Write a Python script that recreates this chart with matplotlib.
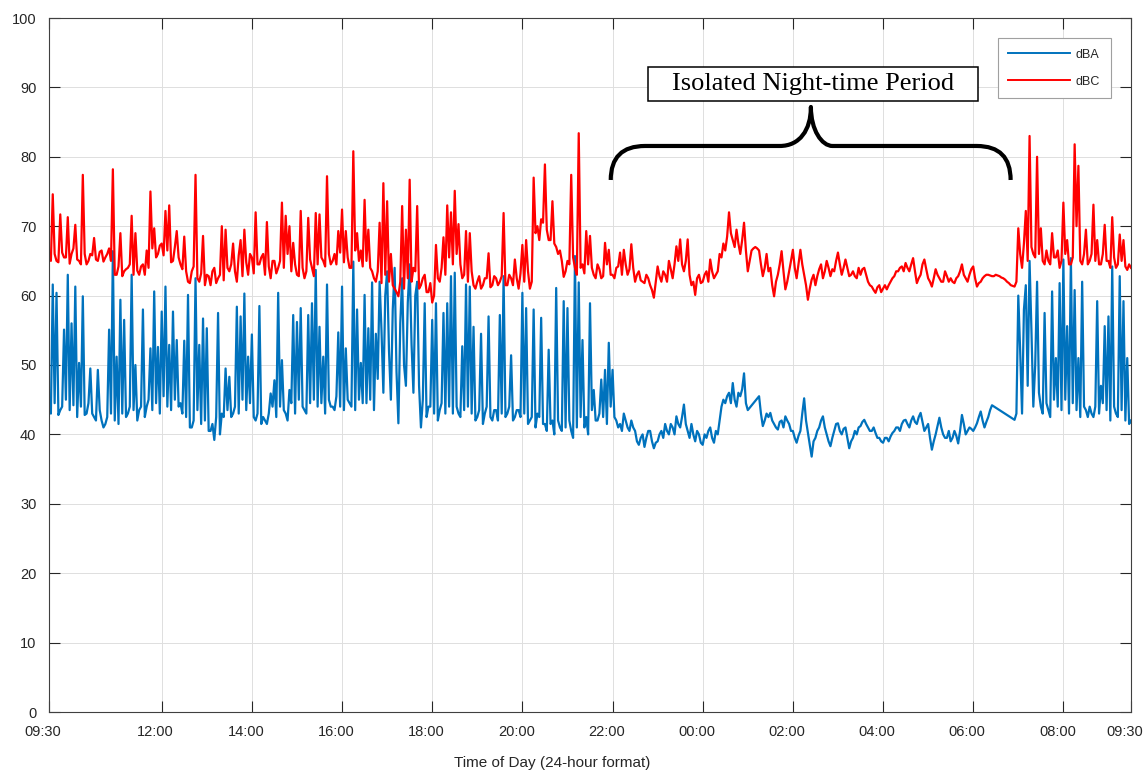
import numpy as np
import matplotlib.pyplot as plt
import matplotlib.transforms as mtransforms
from matplotlib.path import Path
from matplotlib.patches import PathPatch, Rectangle

plt.rcParams['font.family'] = ['Liberation Sans', 'DejaVu Sans']

# sound levels every 5 minutes from 09:30 (one row = one hour),
# plus the readings halfway between them (the *_mid rows).
# None = no sample, the line just joins the neighbours
dba_rows = [
    [44.0, 61.6, 60.4, 43.5, 55.1, 63.0, 56.0, 61.3, 50.3, 59.9, 43.0, 49.5],
    [42.5, 49.3, 42.0, 41.5, 55.1, 66.4, 51.2, 59.4, 56.5, 43.0, 63.0, 50.0],
    [43.5, 58.0, 44.0, 52.4, 60.6, 52.6, 57.7, 61.3, 52.9, 57.7, 53.6, 44.5],
    [53.5, 60.1, 41.0, 62.5, 52.9, 56.7, 55.3, 40.5, 39.2, 57.5, 43.0, 49.5],
    [48.3, 43.0, 58.4, 57.0, 60.3, 51.2, 54.4, 42.0, 58.5, 42.5, 41.5, 45.9],
    [47.8, 60.4, 50.7, 43.0, 46.4, 57.2, 56.2, 58.2, 43.5, 57.2, 58.9, 63.7],
    [55.5, 51.2, 61.6, 44.0, 43.5, 54.7, 61.3, 52.4, 44.5, 64.9, 58.0, 50.3],
    [60.1, 55.3, 61.9, 54.5, 62.0, 46.0, 63.5, 45.0, 64.0, 41.6, 62.5, 47.0],
    [64.5, 46.0, 62.0, 41.0, 58.9, 44.0, 56.5, 58.9, 43.5, 57.5, 58.9, 62.8],
    [63.3, 43.0, 52.7, 61.6, 61.3, 55.5, 42.5, 54.5, 43.0, 57.0, 42.0, 43.5],
    [57.2, 62.8, 43.0, 51.4, 42.5, 43.5, 60.4, 58.2, 42.0, 58.0, 43.0, 56.8],
    [41.5, 52.2, 42.0, 61.1, 41.0, 59.2, 58.2, 40.5, 65.7, 61.9, 53.6, 42.5],
    [58.9, 46.4, 42.0, 47.9, 49.3, 53.2, 49.3, 42.0, 41.5, 43.0, 41.0, 42.0],
    [40.5, 38.5, 40.0, 39.5, 40.5, 38.0, 39.0, 40.5, 41.5, 40.0, 41.0, 42.6],
    [41.0, 44.3, 40.5, 41.5, 39.0, 40.0, 38.5, 39.5, 41.0, 38.8, 40.0, 44.0],
    [44.5, 46.0, 47.4, 44.0, 45.5, 48.8, 43.5, None, None, 45.5, 41.2, 43.0],
    [43.1, 41.5, 40.7, 42.0, 42.6, 41.5, 40.5, 38.8, 40.5, 45.2, 40.2, 36.8],
    [39.5, 41.0, 42.6, 40.0, 38.3, 40.5, 41.6, 40.0, 41.0, 38.0, 39.5, 40.0],
    [41.2, 42.1, 41.0, 40.5, 40.2, 39.5, 38.8, 39.5, 39.7, 40.5, 41.0, 41.5],
    [42.1, 41.0, 42.6, 41.5, 43.1, 40.5, 41.5, 37.8, 40.0, 42.4, 40.0, 39.5],
    [39.0, 40.5, 38.7, 42.8, 40.0, 41.0, 40.5, 41.6, 43.3, 41.0, 42.5, 44.2],
    [None, None, None, None, None, 42.1, 60.0, 43.0, 61.5, 65.0, 44.0, 62.0],
    [44.0, 57.5, 43.5, 60.6, 51.0, 61.8, 65.2, 55.6, 65.4, 60.8, 51.0, 62.0],
    [43.5, 44.0, 42.5, 59.2, 47.0, 55.6, 57.0, 64.2, 43.0, 62.8, 59.2, 51.0],
    [42.0],
]
dba_mid = [
    [43.0, 44.5, 42.8, 44.0, 45.0, 43.5, 44.2, 42.5, 44.0, 42.8, 44.5, 43.0],
    [42.0, 43.5, 41.0, 42.5, 43.0, 42.0, 41.5, 43.0, 42.5, 44.0, 43.5, 42.0],
    [44.0, 42.5, 45.0, 43.5, 44.5, 43.0, 45.5, 44.0, 43.5, 45.0, 44.0, 43.0],
    [42.5, 41.0, 42.0, 43.5, 41.5, 42.0, 40.5, 41.5, 42.5, 40.0, 42.5, 43.5],
    [42.5, 44.0, 43.0, 45.0, 43.5, 44.5, 42.5, 43.0, 41.5, 42.0, 43.0, 44.0],
    [42.5, 44.0, 43.5, 42.0, 44.5, 43.0, 45.0, 44.0, 43.0, 44.5, 45.0, 44.0],
    [44.5, 43.0, 45.0, 44.0, 45.5, 44.0, 43.5, 45.0, 44.0, 43.5, 45.0, 44.5],
    [44.5, 45.0, 43.5, 48.0, 55.0, 60.0, 52.0, 58.0, 49.0, 56.0, 50.0, 59.0],
    [53.0, 60.0, 47.0, 45.0, 42.5, 44.0, 43.0, 42.0, 44.5, 43.0, 44.0, 43.0],
    [44.0, 42.5, 43.5, 44.0, 43.0, 42.0, 43.5, 41.5, 44.0, 42.5, 43.5, 42.0],
    [43.0, 42.5, 44.0, 42.0, 43.5, 42.5, 43.0, 41.5, 42.5, 41.0, 42.5, 41.5],
    [40.5, 41.5, 40.0, 42.0, 40.5, 41.0, 42.0, 39.5, 41.0, 42.5, 41.0, 40.0],
    [43.5, 42.0, 43.0, 42.5, 41.5, 44.0, 42.5, 41.0, 40.5, 42.0, 40.5, 41.0],
    [39.0, 39.5, 38.2, 40.5, 39.0, 38.8, 40.0, 39.5, 40.5, 41.5, 40.0, 41.5],
    [42.5, 41.5, 39.5, 40.0, 40.5, 38.8, 40.0, 40.5, 39.5, 40.5, 42.0, 45.0],
    [45.5, 44.5, 45.0, 46.0, 46.5, 44.5, None, None, None, 43.0, 42.0, 42.5],
    [42.0, 41.0, 41.8, 41.0, 42.0, 40.5, 39.5, 39.8, 43.0, 42.0, 38.5, 39.0],
    [40.5, 42.0, 41.0, 39.0, 39.5, 41.5, 40.5, 40.8, 39.5, 39.0, 40.5, 41.0],
    [41.8, 41.5, 40.5, 41.0, 39.5, 39.0, 39.5, 39.0, 40.2, 41.0, 40.5, 42.0],
    [41.5, 42.0, 41.8, 42.5, 41.8, 41.0, 39.5, 39.0, 41.2, 41.0, 39.5, 40.5],
    [39.5, 39.8, 40.5, 41.5, 40.5, 40.8, 41.0, 42.5, 42.0, 41.8, 43.5, None],
    [None, None, None, None, None, 43.0, 52.0, 58.0, 47.0, 55.0, 50.0, 46.0],
    [43.0, 44.5, 42.5, 45.0, 44.0, 43.5, 45.0, 43.0, 44.5, 43.5, 42.5, 44.0],
    [42.5, 43.0, 44.0, 43.0, 44.5, 43.5, 42.0, 44.0, 42.5, 43.5, 42.0, 41.5],
]

dbc_rows = [
    [65.5, 74.6, 65.0, 71.7, 65.5, 71.3, 66.0, 70.2, 65.0, 77.4, 64.5, 66.0],
    [68.3, 65.0, 66.5, 65.5, 66.8, 78.2, 63.0, 69.0, 63.5, 64.0, 71.5, 69.0],
    [63.0, 64.5, 66.5, 75.0, 69.7, 66.0, 67.5, 72.2, 73.0, 65.0, 69.3, 64.5],
    [68.5, 62.0, 63.5, 77.4, 62.0, 68.6, 63.0, 61.5, 64.0, 62.5, 70.0, 69.5],
    [63.5, 67.5, 62.0, 68.0, 69.5, 63.0, 65.5, 72.0, 64.5, 66.0, 70.6, 62.5],
    [65.0, 64.0, 73.4, 71.5, 70.0, 67.6, 63.0, 72.2, 62.5, 71.2, 64.0, 71.9],
    [71.7, 65.0, 77.2, 64.5, 66.0, 69.3, 72.4, 69.3, 64.0, 80.8, 69.0, 66.5],
    [73.8, 69.5, 63.5, 62.0, 70.5, 76.2, 73.6, 66.0, 61.0, 59.9, 72.9, 69.5],
    [76.7, 64.0, 72.9, 61.5, 63.0, 60.5, 59.0, 67.3, 62.0, 68.4, 73.0, 72.0],
    [75.1, 70.3, 62.5, 69.3, 69.0, 61.5, 62.0, 61.0, 62.5, 66.1, 61.5, 62.5],
    [62.0, 71.9, 61.5, 62.5, 65.2, 61.0, 67.3, 68.0, 61.0, 77.0, 70.0, 71.0],
    [78.9, 68.0, 73.6, 67.0, 66.5, 62.7, 65.0, 77.4, 64.0, 83.4, 64.5, 69.3],
    [68.6, 63.0, 64.5, 62.5, 67.6, 66.6, 63.0, 64.0, 66.2, 66.6, 63.0, 67.4],
    [62.0, 63.5, 62.0, 63.0, 61.5, 59.7, 64.2, 62.0, 63.0, 65.0, 62.5, 67.1],
    [68.1, 63.5, 68.1, 61.5, 60.1, 63.0, 62.0, 63.5, 65.2, 62.5, 63.5, 65.5],
    [66.5, 72.0, 68.0, 69.5, 66.0, 70.5, 63.5, 66.5, 67.0, 66.5, 62.8, 66.0],
    [64.0, 59.9, 63.0, 66.4, 60.9, 63.5, 66.6, 62.5, 66.6, 63.0, 59.4, 62.3],
    [61.5, 63.8, 62.5, 65.0, 62.8, 63.5, 66.2, 63.0, 65.2, 62.8, 63.5, 62.5],
    [63.0, 64.0, 62.0, 61.3, 60.4, 61.5, 61.0, 60.9, 62.0, 62.8, 63.5, 64.2],
    [64.7, 63.5, 65.4, 61.8, 63.0, 65.2, 62.5, 61.3, 63.8, 62.5, 62.0, 62.8],
    [62.5, 61.8, 62.8, 64.5, 62.5, 63.0, 64.2, 61.3, 62.0, 62.8, 63.0, 62.8],
    [63.0, 62.8, 62.5, 62.0, 61.5, 61.3, 69.7, 64.0, 72.2, 83.0, 66.0, 80.0],
    [69.7, 64.5, 65.0, 69.0, 65.5, 64.0, 73.4, 68.0, 64.5, 81.8, 78.7, 64.5],
    [69.5, 65.0, 73.1, 68.0, 64.5, 70.2, 65.0, 71.3, 64.0, 68.8, 68.0, 63.7],
    [64.0],
]
dbc_mid = [
    [65.0, 66.0, 64.8, 66.2, 65.5, 64.6, 66.8, 65.2, 64.5, 66.0, 65.0, 65.8],
    [65.2, 66.3, 64.9, 66.0, 65.0, 63.0, 64.2, 62.8, 63.8, 64.5, 63.0, 63.6],
    [64.2, 63.0, 64.0, 66.8, 65.5, 67.2, 65.8, 66.5, 64.8, 67.0, 65.5, 63.8],
    [63.5, 61.8, 64.2, 62.5, 63.2, 61.5, 62.8, 63.5, 61.8, 63.0, 62.2, 64.0],
    [64.5, 63.5, 65.8, 62.8, 64.8, 66.0, 63.2, 64.5, 65.5, 63.0, 64.2, 65.0],
    [63.2, 65.0, 64.0, 66.0, 63.5, 64.5, 62.8, 64.0, 63.5, 65.2, 62.8, 64.5],
    [65.5, 64.2, 66.0, 65.0, 64.5, 66.2, 64.8, 65.5, 64.0, 66.5, 65.0, 64.2],
    [65.0, 64.0, 62.5, 63.5, 61.8, 63.0, 62.0, 61.5, 60.5, 62.0, 61.0, 62.5],
    [62.0, 63.5, 61.0, 62.5, 60.5, 61.8, 60.0, 62.5, 64.0, 63.0, 65.5, 64.5],
    [66.0, 64.5, 63.0, 62.0, 63.5, 61.0, 62.8, 61.5, 62.5, 61.2, 62.8, 61.5],
    [62.8, 61.5, 63.0, 61.5, 62.5, 63.2, 62.0, 63.5, 62.0, 69.0, 68.0, 70.5],
    [69.5, 68.0, 67.5, 66.0, 65.0, 63.5, 64.5, 65.5, 63.0, 64.0, 63.2, 64.5],
    [64.0, 62.5, 63.8, 62.8, 64.5, 63.0, 62.5, 64.2, 63.0, 64.5, 63.8, 64.0],
    [63.0, 62.2, 61.8, 62.5, 60.8, 62.0, 62.8, 63.5, 62.0, 63.8, 64.5, 65.0],
    [64.5, 65.0, 63.0, 62.0, 62.5, 61.8, 63.0, 62.0, 63.5, 63.0, 66.0, 67.5],
    [68.5, 69.0, 67.0, 67.5, 68.0, 66.5, 65.0, 66.8, 66.8, 64.5, 64.0, 63.5],
    [61.5, 62.0, 64.5, 63.5, 62.0, 65.0, 64.0, 64.5, 64.5, 61.5, 61.0, 63.0],
    [62.8, 64.5, 63.5, 64.0, 63.8, 65.0, 64.5, 64.0, 64.0, 63.0, 62.8, 64.0],
    [63.8, 63.0, 61.5, 60.8, 61.2, 60.5, 61.5, 61.5, 62.5, 63.5, 64.0, 63.5],
    [64.0, 64.5, 63.5, 62.5, 64.5, 63.8, 62.0, 62.5, 63.0, 62.0, 63.5, 62.0],
    [62.0, 62.5, 63.5, 63.0, 62.0, 63.8, 62.5, 61.8, 62.5, 63.0, 62.9, 62.8],
    [62.9, 62.6, 62.3, 61.8, 61.4, 62.0, 66.0, 67.5, 65.0, 67.0, 65.5, 66.0],
    [65.0, 66.5, 64.5, 65.5, 66.5, 65.0, 66.0, 64.5, 65.5, 70.0, 65.0, 66.0],
    [64.5, 66.0, 65.0, 64.5, 66.0, 65.0, 64.0, 65.5, 64.5, 65.0, 64.2, 64.5],
]

tick_hours = [9.5, 12, 14, 16, 18, 20, 22, 24, 26, 28, 30, 32, 33.5]
tick_labels = ['09:30', '12:00', '14:00', '16:00', '18:00', '20:00', '22:00',
               '00:00', '02:00', '04:00', '06:00', '08:00', '09:30']


def flatten(rows):
    return np.array([np.nan if v is None else v for r in rows for v in r], dtype=float)


def merge(main_rows, mid_rows):
    main = flatten(main_rows)
    mid = flatten(mid_rows)
    out = np.empty(len(main) + len(mid))
    out[0::2] = main
    out[1::2] = mid
    return out


dba = merge(dba_rows, dba_mid)
dbc = merge(dbc_rows, dbc_mid)
t = 9.5 + np.arange(len(dba)) * 2.5 / 60.0

fig = plt.figure(figsize=(11.46, 7.75), dpi=100)
ax = fig.add_axes([49 / 1146, 63 / 775, 1082 / 1146, 694 / 775])

ok_a = ~np.isnan(dba)
ok_c = ~np.isnan(dbc)
la, = ax.plot(t[ok_a], dba[ok_a], color='#0072BD', lw=1.6, label='dBA')
lc, = ax.plot(t[ok_c], dbc[ok_c], color='#FF0000', lw=1.6, label='dBC')

ax.set_xlim(9.5, 33.5)
ax.set_ylim(0, 100)
ax.set_xticks(tick_hours)
ax.set_xticklabels(tick_labels)
ax.set_yticks(range(0, 101, 10))
ax.grid(True, color='#dedede', lw=0.7)
ax.set_axisbelow(True)
ax.tick_params(direction='in', length=8, width=0.8, top=True, right=True,
               colors='#262626', labelsize=10.5)
ax.tick_params(axis='x', pad=9)
ax.tick_params(axis='y', pad=9)
for s in ax.spines.values():
    s.set_color('#404040')
    s.set_linewidth(0.8)

# x tick labels sit a little left of their ticks in the original
shift = mtransforms.ScaledTranslation(-6 / 100, 0, fig.dpi_scale_trans)
for lab in ax.get_xticklabels():
    lab.set_transform(lab.get_transform() + shift)

ax.set_xlabel('Time of Day (24-hour format)', fontsize=11, color='#262626')
ax.xaxis.set_label_coords(0.465, -0.063)

leg = ax.legend(handles=[la, lc], loc='upper right', bbox_to_anchor=(0.9815, 0.971),
                borderaxespad=0, fontsize=9, handlelength=4.9, handletextpad=0.5,
                labelspacing=1.2, borderpad=0.85,
                fancybox=False, framealpha=1, edgecolor='#a0a0a0')
leg.get_frame().set_linewidth(0.8)
for txt in leg.get_texts():
    txt.set_color('#262626')
for h in leg.get_lines():
    h.set_linewidth(1.4)

# curly brace over the night-time period
verts = [(21.96, 76.66), (21.96, 81.56), (22.72, 81.56),
         (25.71, 81.56),
         (26.15, 81.56), (26.40, 83.86), (26.40, 87.18),
         (26.40, 83.86), (26.64, 81.56), (26.88, 81.56),
         (30.08, 81.56),
         (30.83, 81.56), (30.83, 76.66)]
codes = [Path.MOVETO, Path.CURVE3, Path.CURVE3,
         Path.LINETO,
         Path.CURVE4, Path.CURVE4, Path.CURVE4,
         Path.CURVE4, Path.CURVE4, Path.CURVE4,
         Path.LINETO,
         Path.CURVE3, Path.CURVE3]
ax.add_patch(PathPatch(Path(verts, codes), fill=False, lw=3, color='black',
                       capstyle='butt', joinstyle='round'))

ax.add_patch(Rectangle((22.78, 88.04), 30.10 - 22.78, 92.94 - 88.04,
                       facecolor='white', edgecolor='black', lw=1.1, zorder=5))
ax.text(26.44, 90.45, 'Isolated Night-time Period', ha='center', va='center',
        fontsize=19, family=['Liberation Serif', 'DejaVu Serif'], zorder=6)

fig.savefig('out.png', dpi=100)
